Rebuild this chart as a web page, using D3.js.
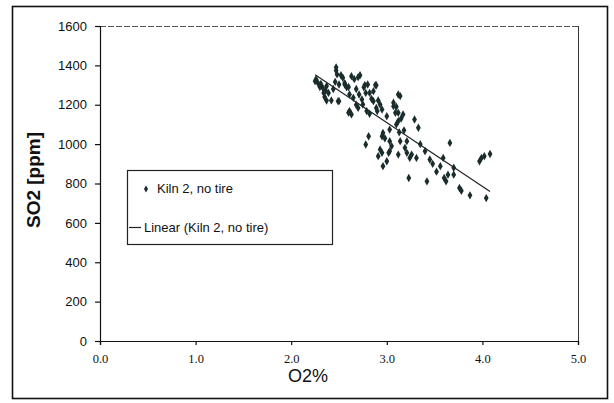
<!DOCTYPE html>
<html>
<head>
<meta charset="utf-8">
<script src="https://cdn.jsdelivr.net/npm/d3@7"></script>
<style>
  html, body { margin: 0; padding: 0; background: #fff; }
  svg { display: block; }
  text { font-family: "Liberation Sans", Arial, sans-serif; fill: #111; }
</style>
</head>
<body>
<svg id="chart" width="614" height="403"></svg>
<script>
// ---- Data ----
const seriesName = "Kiln 2, no tire";
const trendName = "Linear (Kiln 2, no tire)";
const o2 = [
  2.25, 2.26, 2.28, 2.31, 2.33, 2.34, 2.36, 2.37, 2.39, 2.37, 2.42, 2.47, 2.48, 2.46, 2.50, 2.47,
  2.54, 2.56, 2.58, 2.63, 2.70, 2.61, 2.65, 2.50, 2.71, 2.76, 2.80, 2.89, 2.74, 2.75,
  2.82, 2.86, 2.61, 2.63, 2.70, 2.79, 2.82, 2.86, 2.91, 2.93, 2.89, 2.95, 3.00, 3.07,
  3.09, 3.12, 3.14, 3.17, 3.12, 3.10, 3.29, 3.33, 3.03, 2.96, 2.95, 2.81, 2.78, 3.03,
  3.14, 3.21, 3.19, 3.21, 3.24, 2.93, 2.95, 2.91, 3.02, 3.03, 3.00, 2.96, 3.12, 3.31,
  3.26, 3.40, 3.45, 3.59, 3.56, 3.66, 3.23, 3.42, 3.60, 3.64, 3.62, 3.76, 3.78, 3.87,
  4.04, 3.97, 3.99, 4.02, 4.08, 3.70, 2.56, 2.60, 2.66, 2.77, 2.88, 2.49, 2.68, 2.72,
  2.78, 2.60, 2.90, 2.84, 3.12, 3.07, 3.10, 3.15, 3.13, 2.44, 2.52, 2.68, 2.30, 2.35,
  2.98, 3.05, 3.18, 3.35, 3.48, 3.52, 3.70
];
const so2 = [
  1320, 1330, 1310, 1306, 1286, 1260, 1272, 1221, 1260, 1295, 1222, 1374, 1354, 1316, 1303, 1390,
  1337, 1303, 1289, 1345, 1340, 1252, 1235, 1218, 1252, 1289, 1303, 1299, 1227, 1201,
  1260, 1269, 1168, 1151, 1184, 1168, 1154, 1218, 1222, 1201, 1184, 1176, 1142, 1193,
  1159, 1159, 1244, 1151, 1117, 1100, 1125, 1083, 1074, 1057, 1040, 1040, 998, 1015,
  1015, 1015, 981, 956, 930, 973, 956, 939, 956, 964, 913, 888, 947, 930,
  947, 964, 922, 930, 888, 1006, 828, 811, 828, 845, 811, 777, 763, 740,
  726, 913, 930, 939, 950, 845, 1310, 1290, 1330, 1300, 1300, 1218, 1280, 1350,
  1260, 1160, 1168, 1230, 1252, 1210, 1190, 1130, 1060, 1280, 1350, 1200, 1290, 1240,
  1030, 990, 1070, 1000, 900, 860, 880
];
const xTicks = [0, 1, 2, 3, 4, 5];
const yTicks = [0, 200, 400, 600, 800, 1000, 1200, 1400, 1600];
const xLabel = "O2%";
const yLabel = "SO2 [ppm]";

// ---- Layout ----
const svg = d3.select("#chart");
const mLeft = 100, mRight = 578, mTop = 26, mBottom = 341;

const x = d3.scaleLinear().domain([0, 5]).range([mLeft, mRight]);
const y = d3.scaleLinear().domain([0, 1600]).range([mBottom, mTop]);

// outer frame
svg.append("rect")
  .attr("x", 12.5).attr("y", 6.5).attr("width", 595).attr("height", 392)
  .attr("fill", "none").attr("stroke", "#111").attr("stroke-width", 1.6);

// plot area border (top dashed, right solid)
svg.append("line")
  .attr("x1", mLeft).attr("x2", mRight).attr("y1", mTop + 0.5).attr("y2", mTop + 0.5)
  .attr("stroke", "#555").attr("stroke-width", 1).attr("stroke-dasharray", "6,2");
svg.append("line")
  .attr("x1", mRight + 0.5).attr("x2", mRight + 0.5).attr("y1", mTop).attr("y2", mBottom)
  .attr("stroke", "#333").attr("stroke-width", 1);

// axes
const xAxis = d3.axisBottom(x).tickValues(xTicks).tickSize(4).tickPadding(9)
  .tickFormat(d3.format(".1f"));
const gx = svg.append("g").attr("transform", `translate(0,${mBottom})`).call(xAxis);
gx.select(".domain").attr("stroke", "#111").attr("stroke-width", 1.2);
gx.selectAll(".tick line").attr("stroke", "#111").attr("stroke-width", 1.2);
gx.selectAll(".tick text").attr("font-size", 12.5).attr("fill", "#111")
  .style("font-family", "'Liberation Serif', serif");

const yAxis = d3.axisLeft(y).tickValues(yTicks).tickSize(5).tickPadding(8)
  .tickFormat(d3.format("d"));
const gy = svg.append("g").attr("transform", `translate(${mLeft},0)`).call(yAxis);
gy.select(".domain").attr("stroke", "#111").attr("stroke-width", 1.2);
gy.selectAll(".tick line").attr("stroke", "#111").attr("stroke-width", 1.2);
gy.selectAll(".tick text").attr("font-size", 13).attr("fill", "#111")
  .style("font-family", "'Liberation Sans Narrow', 'Liberation Sans', Arial, sans-serif");

// axis labels
svg.append("text")
  .attr("x", 308).attr("y", 382)
  .attr("text-anchor", "middle")
  .attr("font-size", 18)
  .text(xLabel);
svg.append("text")
  .attr("transform", `translate(40,180) rotate(-90)`)
  .attr("text-anchor", "middle")
  .attr("font-size", 19)
  .attr("font-weight", "bold")
  .text(yLabel);

// data
const pts = o2.map((v, i) => ({ x: v, y: so2[i] }));

// linear trend (least squares)
const mx = d3.mean(pts, d => d.x), my = d3.mean(pts, d => d.y);
const slope = d3.sum(pts, d => (d.x - mx) * (d.y - my)) / d3.sum(pts, d => (d.x - mx) ** 2);
const icpt = my - slope * mx;
const [xmin, xmax] = d3.extent(pts, d => d.x);
const trend = [xmin, xmax].map(v => ({ x: v, y: icpt + slope * v }));

svg.append("path")
  .datum(trend)
  .attr("d", d3.line().x(d => x(d.x)).y(d => y(d.y)))
  .attr("fill", "none").attr("stroke", "#222").attr("stroke-width", 1.2);

const sym = d3.symbol().type(d3.symbolDiamond).size(20);
svg.append("g").selectAll("path")
  .data(pts)
  .join("path")
  .attr("transform", d => `translate(${x(d.x)},${y(d.y)})`)
  .attr("d", sym)
  .attr("fill", "#1a2c2c");

// legend
const lg = svg.append("g");
lg.append("rect")
  .attr("x", 127.5).attr("y", 170.5).attr("width", 205).attr("height", 74)
  .attr("fill", "#fff").attr("stroke", "#222").attr("stroke-width", 1.2);
lg.append("path")
  .attr("transform", "translate(146,189)")
  .attr("d", d3.symbol().type(d3.symbolDiamond).size(14))
  .attr("fill", "#1a2c2c");
lg.append("text").attr("x", 157).attr("y", 193).attr("font-size", 13).text(seriesName);
lg.append("line")
  .attr("x1", 129).attr("x2", 141).attr("y1", 227.5).attr("y2", 227.5)
  .attr("stroke", "#222").attr("stroke-width", 1.2);
lg.append("text").attr("x", 144).attr("y", 232).attr("font-size", 13).text(trendName);
</script>
</body>
</html>
